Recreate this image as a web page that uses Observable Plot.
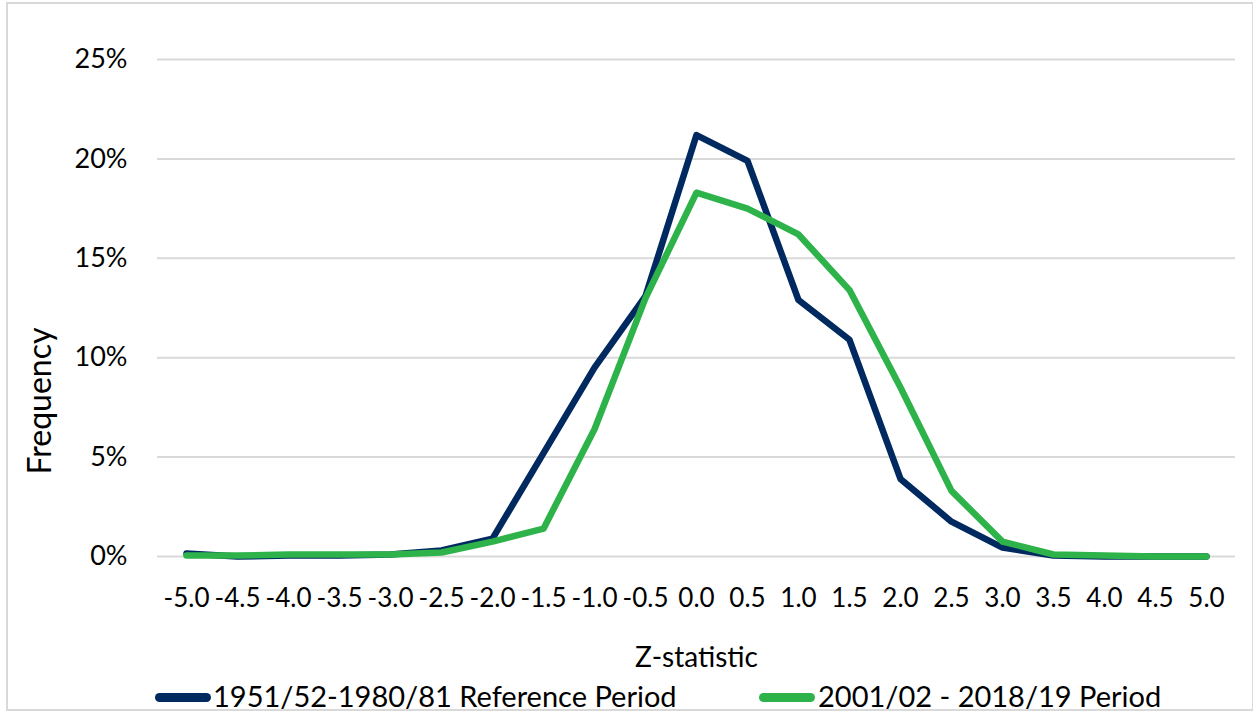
<!DOCTYPE html>
<html>
<head>
<meta charset="utf-8">
<script src="https://cdn.jsdelivr.net/npm/d3@7"></script>
<script src="https://cdn.jsdelivr.net/npm/@observablehq/plot@0.6"></script>
<style>
  html, body { margin: 0; padding: 0; background: #fff; }
  #wrap { position: relative; width: 1253px; height: 713px; overflow: hidden; font-family: Lato, "Open Sans", sans-serif; }
  #frame { position: absolute; left: 6px; top: 2px; width: 1248px; height: 709px; box-sizing: border-box; border: 2px solid #d9d9d9; pointer-events: none; }
  #chart { position: absolute; left: 0; top: 0; }
  #legend { position: absolute; left: 0; top: 680px; width: 1253px; height: 33px; }
  .sw { position: absolute; height: 9px; border-radius: 5px; width: 56px; top: 13px; }
  .lt { position: absolute; font-size: 29px; line-height: 29px; top: 1px; color: #000; white-space: nowrap; }
</style>
</head>
<body>
<div id="wrap">
  <div id="chart"></div>
  <div id="legend"></div>
  <div id="frame"></div>
</div>
<script>
// Z-statistic categories
const zLabels = ["-5.0","-4.5","-4.0","-3.5","-3.0","-2.5","-2.0","-1.5","-1.0","-0.5","0.0","0.5","1.0","1.5","2.0","2.5","3.0","3.5","4.0","4.5","5.0"];
// Frequency (%) per period
const referencePeriod = [0.15,0.0,0.05,0.05,0.1,0.3,0.9,5.2,9.5,13.1,21.2,19.9,12.9,10.9,3.9,1.75,0.45,0.05,0.0,0.0,0.0];
const recentPeriod    = [0.05,0.05,0.1,0.1,0.1,0.2,0.75,1.4,6.4,13.0,18.3,17.5,16.2,13.4,8.5,3.3,0.75,0.1,0.05,0.0,0.0];
const seriesNames = ["1951/52-1980/81 Reference Period", "2001/02 - 2018/19 Period"];
const seriesColors = ["#002960", "#2eb34b"];
const yTicks = [0, 0.05, 0.10, 0.15, 0.20, 0.25];

const rows = [];
zLabels.forEach((z, i) => rows.push({z, v: referencePeriod[i] / 100, s: seriesNames[0]}));
zLabels.forEach((z, i) => rows.push({z, v: recentPeriod[i] / 100, s: seriesNames[1]}));

const W = 1253, H = 680;
const plot = Plot.plot({
  width: W,
  height: H,
  marginLeft: 157,
  marginRight: 18,
  marginTop: 59,
  marginBottom: 124,
  style: {fontFamily: "Lato, 'Open Sans', sans-serif", color: "#000", background: "transparent"},
  x: {type: "point", domain: zLabels, padding: 0.5},
  y: {domain: [0, 0.25]},
  color: {domain: seriesNames, range: seriesColors},
  marks: [
    Plot.ruleY(yTicks, {stroke: "#d9d9d9", strokeWidth: 2}),
    Plot.axisY(yTicks, {tickSize: 0, tickPadding: 30, tickFormat: d3.format(".0%"), fontSize: 27, label: null}),
    Plot.axisX({tickSize: 0, tickPadding: 32, fontSize: 26, label: null}),
    Plot.line(rows, {x: "z", y: "v", z: "s", stroke: "s", strokeWidth: 6.5, strokeLinejoin: "round", strokeLinecap: "round"}),
    Plot.text(["Frequency"], {frameAnchor: "left", dx: -117, dy: 93, rotate: -90, fontSize: 32, textAnchor: "middle", lineAnchor: "middle", fill: "#000"}),
    Plot.text(["Z-statistic"], {frameAnchor: "bottom", dy: 102, fontSize: 28, textAnchor: "middle", lineAnchor: "middle", fill: "#000"})
  ]
});
document.getElementById("chart").appendChild(plot);

// Legend
const legend = document.getElementById("legend");
const legendPos = [{sw: 155, tx: 213}, {sw: 759, tx: 818}];
seriesNames.forEach((name, i) => {
  const sw = document.createElement("div");
  sw.className = "sw";
  sw.style.left = legendPos[i].sw + "px";
  sw.style.background = seriesColors[i];
  legend.appendChild(sw);
  const t = document.createElement("div");
  t.className = "lt";
  t.style.left = legendPos[i].tx + "px";
  t.textContent = name;
  legend.appendChild(t);
});
</script>
</body>
</html>
